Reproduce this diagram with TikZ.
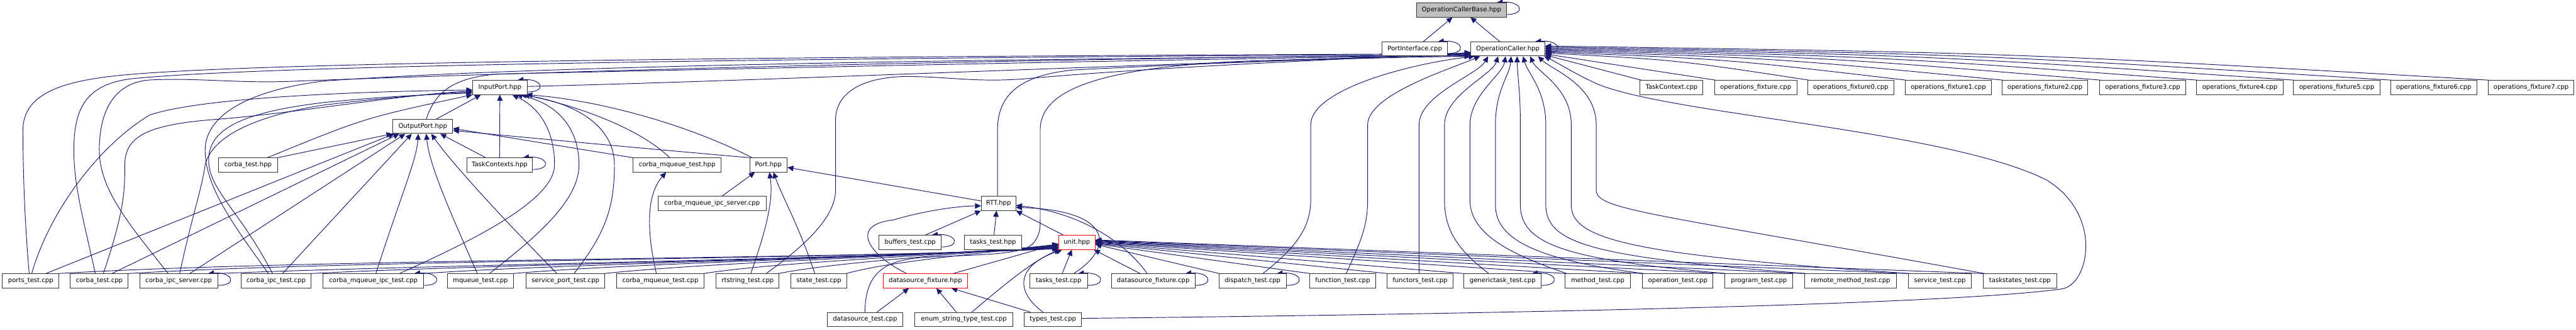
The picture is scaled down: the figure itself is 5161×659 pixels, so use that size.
\documentclass[tikz,border=0pt]{standalone}
\usepackage{fontspec}
\newfontfamily\dvs{DejaVu Sans}
\usetikzlibrary{arrows.meta}
\definecolor{edgecol}{HTML}{191970}
\definecolor{boxgray}{HTML}{BFBFBF}
\pgfdeclarelayer{bg}
\pgfsetlayers{bg,main}
\tikzset{
  box/.style={draw=black!80, line width=1.2pt, fill=white, minimum height=28pt, inner xsep=1pt, inner ysep=0pt, font=\dvs\fontsize{12.7pt}{15pt}\selectfont},
  redbox/.style={box, draw=red},
  e/.style={draw=edgecol, line width=1.2pt, -{Triangle[length=12pt,width=11pt]}},
}
\newcommand\selfloopx[1]{\draw[e] ([yshift=-9pt]#1.east) .. controls +(40,0) and +(50,-4) .. ([xshift=-20pt]#1.north east);}
\begin{document}
\begin{tikzpicture}[x=1pt,y=-1pt]
\useasboundingbox (0,0) rectangle (5161,659);
% ---------- nodes ----------
\node[box,fill=boxgray,minimum width=180pt] (ocb) at (2928,20) {OperationCallerBase.hpp};
\node[box,minimum width=131pt] (pi) at (2834.5,98) {PortInterface.cpp};
\node[box,minimum width=148pt] (oc) at (3021,98) {OperationCaller.hpp};
\node[box,minimum width=109pt] (ip) at (1001.5,175) {InputPort.hpp};
\node[box,minimum width=126pt] (tcc) at (3349,175) {TaskContext.cpp};
\node[box,minimum width=165pt] (of) at (3517.5,175) {operations\_fixture.cpp};
\node[box,minimum width=172pt] (of0) at (3708,175) {operations\_fixture0.cpp};
\node[box,minimum width=173pt] (of1) at (3903.5,175) {operations\_fixture1.cpp};
\node[box,minimum width=172pt] (of2) at (4097,175) {operations\_fixture2.cpp};
\node[box,minimum width=172pt] (of3) at (4293,175) {operations\_fixture3.cpp};
\node[box,minimum width=173pt] (of4) at (4487.5,175) {operations\_fixture4.cpp};
\node[box,minimum width=173pt] (of5) at (4681.5,175) {operations\_fixture5.cpp};
\node[box,minimum width=172pt] (of6) at (4876,175) {operations\_fixture6.cpp};
\node[box,minimum width=172pt] (of7) at (5071,175) {operations\_fixture7.cpp};
\node[box,minimum width=120pt] (op) at (847,253) {OutputPort.hpp};
\node[box,minimum width=118pt] (cth) at (497,330) {corba\_test.hpp};
\node[box,minimum width=132pt] (tch) at (1001,330) {TaskContexts.hpp};
\node[box,minimum width=177pt] (cmh) at (1356.5,330) {corba\_mqueue\_test.hpp};
\node[box,minimum width=75pt] (port) at (1539.5,330) {Port.hpp};
\node[box,minimum width=217pt] (cmis) at (1426.5,407) {corba\_mqueue\_ipc\_server.cpp};
\node[box,minimum width=69pt] (rtt) at (2000.5,407) {RTT.hpp};
\node[box,minimum width=125pt] (buf) at (1823.5,485) {buffers\_test.cpp};
\node[box,minimum width=115pt] (tth) at (1989.5,485) {tasks\_test.hpp};
\node[redbox,minimum width=73pt] (unit) at (2157.5,485) {unit.hpp};
\node[box,minimum width=113pt] (pt) at (61.5,562) {ports\_test.cpp};
\node[box,minimum width=116pt] (ct) at (199,562) {corba\_test.cpp};
\node[box,minimum width=156pt] (cis) at (358,562) {corba\_ipc\_server.cpp};
\node[box,minimum width=140pt] (cit) at (553,562) {corba\_ipc\_test.cpp};
\node[box,minimum width=202pt] (cmit) at (748,562) {corba\_mqueue\_ipc\_test.cpp};
\node[box,minimum width=133pt] (mq) at (962.5,562) {mqueue\_test.cpp};
\node[box,minimum width=158pt] (spt) at (1133,562) {service\_port\_test.cpp};
\node[box,minimum width=176pt] (cmt) at (1323,562) {corba\_mqueue\_test.cpp};
\node[box,minimum width=126pt] (rts) at (1498,562) {rtstring\_test.cpp};
\node[box,minimum width=113pt] (st) at (1640.5,562) {state\_test.cpp};
\node[redbox,minimum width=168pt] (dfh) at (1854,562) {datasource\_fixture.hpp};
\node[box,minimum width=116pt] (ttc) at (2121,562) {tasks\_test.cpp};
\node[box,minimum width=167pt] (dfc) at (2310.5,562) {datasource\_fixture.cpp};
\node[box,minimum width=135pt] (dt) at (2509.5,562) {dispatch\_test.cpp};
\node[box,minimum width=132pt] (fnt) at (2690,562) {function\_test.cpp};
\node[box,minimum width=132pt] (fct) at (2845,562) {functors\_test.cpp};
\node[box,minimum width=155pt] (gtt) at (3010.5,562) {generictask\_test.cpp};
\node[box,minimum width=130pt] (mt) at (3201,562) {method\_test.cpp};
\node[box,minimum width=141pt] (opt) at (3361.5,562) {operation\_test.cpp};
\node[box,minimum width=136pt] (prt) at (3524,562) {program\_test.cpp};
\node[box,minimum width=183pt] (rmt) at (3707.5,562) {remote\_method\_test.cpp};
\node[box,minimum width=125pt] (svt) at (3886.5,562) {service\_test.cpp};
\node[box,minimum width=148pt] (tst) at (4047,562) {taskstates\_test.cpp};
\node[box,minimum width=152pt] (dst) at (1733,639) {datasource\_test.cpp};
\node[box,minimum width=196pt] (est) at (1931,639) {enum\_string\_type\_test.cpp};
\node[box,minimum width=115pt] (tyt) at (2109.5,639) {types\_test.cpp};
% ---------- edges ----------
\begin{pgfonlayer}{bg}
% top
\draw[e] ([xshift=17pt]pi.north) -- ([xshift=-18pt]ocb.south);
\draw[e] ([xshift=-16pt]oc.north) -- ([xshift=18pt]ocb.south);
\selfloopx{ocb}\selfloopx{pi}\selfloopx{oc}
% fixtures -> OperationCaller
\draw[e] ([xshift=3pt]tcc.north west) -- ([yshift=-12pt]oc.east);
\draw[e] ([xshift=3pt]of.north west) -- ([yshift=-10pt]oc.east);
\draw[e] ([xshift=3pt]of0.north west) .. controls (3360,120) .. ([yshift=-8pt]oc.east);
\draw[e] ([xshift=3pt]of1.north west) .. controls (3457,118) .. ([yshift=-6pt]oc.east);
\draw[e] ([xshift=3pt]of2.north west) .. controls (3555,116) .. ([yshift=-4pt]oc.east);
\draw[e] ([xshift=3pt]of3.north west) .. controls (3651,114) .. ([yshift=-2pt]oc.east);
\draw[e] ([xshift=3pt]of4.north west) .. controls (3748,112) .. (oc.east);
\draw[e] ([xshift=3pt]of5.north west) .. controls (3845,110) .. ([yshift=2pt]oc.east);
\draw[e] ([xshift=3pt]of6.north west) .. controls (3942,108) .. ([yshift=4pt]oc.east);
\draw[e] ([xshift=3pt]of7.north west) .. controls (4040,106) .. ([yshift=6pt]oc.east);
% left bundle -> OperationCaller
\draw[e] ([xshift=-3pt]pt.north) .. controls (50,450) and (46,350) .. (46,260) .. controls (46,190) and (120,165) .. (220,153) .. controls (450,125) and (1500,113) .. ([yshift=5pt]oc.south west);
\draw[e] ([xshift=-8pt]ct.north) .. controls (165,430) and (148,370) .. (148,300) .. controls (148,220) and (170,170) .. (260,158) .. controls (500,132) and (1500,116) .. ([yshift=4pt]oc.south west);
\draw[e] ([xshift=-21pt]cis.north) .. controls (260,450) and (199,380) .. (199,300) .. controls (199,220) and (230,165) .. (300,160) .. controls (400,155) and (480,168) .. (600,162) .. controls (1200,140) and (2000,118) .. ([yshift=3pt]oc.south west);
\draw[e] ([xshift=-15pt]cit.north) .. controls (460,440) and (411,370) .. (411,300) .. controls (411,230) and (500,180) .. (650,162) .. controls (1100,130) and (2000,118) .. ([yshift=2pt]oc.south west);
\draw[e] ([xshift=7pt]op.north) .. controls (870,190) and (900,155) .. (1000,148) .. controls (1600,135) and (2500,115) .. ([yshift=1pt]oc.south west);
\draw[e] ([yshift=2pt]ip.east) .. controls (1600,160) and (2500,118) .. (oc.south west);
\draw[e] ([xshift=-2pt]rtt.north) -- (1998.5,260) .. controls (1998.5,185) and (2050,150) .. (2150,140) .. controls (2500,122) and (2800,114) .. ([yshift=6pt]oc.south west);
\draw[e] ([xshift=37pt]rts.north) .. controls (1600,500) and (1674,440) .. (1674,380) -- (1674,240) .. controls (1674,190) and (1720,155) .. (1814,153) .. controls (1900,153) and (1950,165) .. (2050,158) .. controls (2300,135) and (2700,118) .. ([yshift=7pt]oc.south west);
\draw[e] (dst.north) .. controls (1733,540) and (1780,520) .. (1850,515) .. controls (1990,508) and (2060,510) .. (2075,480) .. controls (2084,465) and (2084,455) .. (2084,440) -- (2084,260) .. controls (2084,180) and (2200,135) .. (2500,122) .. controls (2700,116) and (2850,114) .. ([yshift=8pt]oc.south west);
% right tests -> OperationCaller (vertical routes)
\draw[e] ([xshift=20.5pt]dt.north) .. controls (2590,500) and (2626,460) .. (2626,400) -- (2626,250) .. controls (2626,180) and (2820,128) .. ([xshift=8pt]oc.south west);
\draw[e] ([xshift=7pt]fnt.north) .. controls (2728,480) and (2740,450) .. (2740,400) -- (2740,250) .. controls (2740,190) and (2900,140) .. ([xshift=19pt]oc.south west);
\draw[e] ([xshift=-2pt]fct.north) -- (2843,250) .. controls (2843,190) and (2960,150) .. ([xshift=35pt]oc.south west);
\draw[e] ([xshift=-27.5pt]gtt.north) .. controls (2920,500) and (2894,460) .. (2894,400) -- (2894,250) .. controls (2894,190) and (2990,150) .. ([xshift=55pt]oc.south west);
\draw[e] ([xshift=4pt]mt.north west) .. controls (3030,510) and (2945,470) .. (2945,400) -- (2945,250) .. controls (2945,190) and (3010,150) .. ([xshift=70pt]oc.south west);
\draw[e] ([xshift=4pt]opt.north west) .. controls (3080,520) and (2996,480) .. (2996,410) -- (2996,250) .. controls (2996,180) and (3025,150) .. ([xshift=81pt]oc.south west);
\draw[e] ([xshift=4pt]prt.north west) .. controls (3140,520) and (3046,490) .. (3046,410) -- (3046,250) .. controls (3046,180) and (3040,150) .. ([xshift=93pt]oc.south west);
\draw[e] ([xshift=4pt]rmt.north west) .. controls (3200,515) and (3097,490) .. (3097,410) -- (3097,250) .. controls (3097,180) and (3060,145) .. ([xshift=105pt]oc.south west);
\draw[e] ([xshift=4pt]svt.north west) .. controls (3270,510) and (3148,480) .. (3148,410) -- (3148,250) .. controls (3148,175) and (3080,145) .. ([xshift=119pt]oc.south west);
\draw[e] ([xshift=4pt]tst.north west) .. controls (3300,425) and (3198,420) .. (3198,380) -- (3198,250) .. controls (3198,170) and (3110,140) .. ([xshift=135pt]oc.south west);
% types_test -> OperationCaller (around the right)
\draw[e] ([yshift=2pt]tyt.east) .. controls (3000,628) and (3900,610) .. (4131,578) .. controls (4185,570) and (4215,430) .. (4100,360) .. controls (3900,260) and (3350,230) .. (3200,168) .. controls (3150,145) and (3120,125) .. ([xshift=-2pt]oc.south east);
% right tests -> unit.hpp
\draw[e] ([xshift=2pt]dt.north west) -- ([yshift=-4pt]unit.east);
\draw[e] ([xshift=2pt]fnt.north west) -- ([yshift=-3pt]unit.east);
\draw[e] ([xshift=2pt]fct.north west) -- ([yshift=-2pt]unit.east);
\draw[e] ([xshift=2pt]gtt.north west) -- ([yshift=-1pt]unit.east);
\draw[e] ([xshift=2pt]mt.north west) -- (unit.east);
\draw[e] ([xshift=2pt]opt.north west) -- ([yshift=1pt]unit.east);
\draw[e] ([xshift=2pt]prt.north west) -- ([yshift=2pt]unit.east);
\draw[e] ([xshift=2pt]rmt.north west) -- ([yshift=3pt]unit.east);
\draw[e] ([xshift=2pt]svt.north west) -- ([yshift=4pt]unit.east);
\draw[e] ([xshift=2pt]tst.north west) -- ([yshift=5pt]unit.east);
\draw[e] ([xshift=7pt]ttc.north) -- ([xshift=-10pt]unit.south);
\draw[e] ([xshift=-26pt]dfc.north) -- ([xshift=-3pt]unit.south east);
% left tests -> unit.hpp
\draw[e] ([xshift=-3pt]pt.north east) .. controls (600,518) and (1700,518) .. ([yshift=2pt]unit.south west);
\draw[e] ([xshift=-3pt]ct.north east) .. controls (700,520) and (1720,518) .. ([yshift=3pt]unit.south west);
\draw[e] ([xshift=-3pt]cis.north east) .. controls (850,530) and (1740,518) .. ([yshift=4pt]unit.south west);
\draw[e] ([xshift=-3pt]cit.north east) .. controls (1000,528) and (1760,518) .. ([yshift=5pt]unit.south west);
\draw[e] ([xshift=-3pt]cmit.north east) .. controls (1150,526) and (1780,517) .. ([yshift=6pt]unit.south west);
\draw[e] ([xshift=-3pt]mq.north east) .. controls (1300,524) and (1800,516) .. ([yshift=7pt]unit.south west);
\draw[e] ([xshift=-3pt]spt.north east) .. controls (1430,524) and (1820,515) .. ([yshift=8pt]unit.south west);
\draw[e] ([xshift=-3pt]cmt.north east) .. controls (1560,524) and (1850,514) .. ([yshift=9pt]unit.south west);
\draw[e] ([xshift=-3pt]rts.north east) .. controls (1680,524) and (1880,513) .. ([yshift=10pt]unit.south west);
\draw[e] ([xshift=-3pt]st.north east) .. controls (1780,524) and (1920,512) .. ([yshift=11pt]unit.south west);
\draw[e] ([xshift=55pt]dfh.north) -- ([yshift=12pt]unit.south west);
\draw[e] ([xshift=16pt]est.north) .. controls (2000,580) and (2070,520) .. ([xshift=4pt]unit.south west);
\draw[e] ([xshift=-20pt]tyt.north) .. controls (2030,580) and (2040,530) .. ([xshift=8pt]unit.south west);
% datasource_fixture.hpp
\draw[e] ([xshift=24pt]dst.north) -- ([xshift=-33pt]dfh.south);
\draw[e] ([xshift=-15pt]est.north) -- ([xshift=22pt]dfh.south);
\draw[e] ([xshift=-45pt]tyt.north) -- ([xshift=52pt]dfh.south);
\draw[e] ([xshift=-37pt]dfh.north) .. controls (1740,510) and (1700,450) .. (1790,440) .. controls (1850,422) and (1920,412) .. ([yshift=-5pt]rtt.west);
% RTT.hpp
\draw[e] ([xshift=30pt]buf.north) -- (rtt.south west);
\draw[e] ([xshift=2pt]tth.north) -- ([xshift=-4pt]rtt.south);
\draw[e] ([xshift=-27pt]unit.north) -- (rtt.south east);
\draw[e] ([xshift=30pt]ttc.north) .. controls (2240,490) and (2220,420) .. ([yshift=-8pt]rtt.east);
\draw[e] ([xshift=-12pt]dfc.north) .. controls (2250,480) and (2160,425) .. ([yshift=-4pt]rtt.east);
\draw[e] ([yshift=5pt]rtt.west) -- ([yshift=-5pt]port.east);
% Port.hpp
\draw[e] ([xshift=20pt]cmis.north) -- ([xshift=-27pt]port.south);
\draw[e] ([xshift=6pt]rts.north) .. controls (1535,460) and (1550,400) .. ([xshift=2pt]port.south);
\draw[e] ([xshift=-8pt]st.north) .. controls (1600,450) and (1570,400) .. ([xshift=10pt]port.south);
\draw[e] (port.north west) .. controls (1460,312) and (1100,280) .. ([yshift=-8pt]op.east);
\draw[e] ([xshift=-33pt]port.north) .. controls (1380,250) and (1200,200) .. ([xshift=-2pt]ip.south east);
% corba_mqueue_test.hpp
\draw[e] ([xshift=-8pt]cmt.north) .. controls (1295,460) and (1295,390) .. ([xshift=-22pt]cmh.south);
\draw[e] (cmh.north west) -- ([yshift=-4pt]op.east);
\draw[e] ([xshift=-15pt]cmh.north) .. controls (1280,255) and (1150,210) .. ([xshift=-8pt]ip.south east);
% TaskContexts.hpp
\draw[e] ([xshift=-28pt]tch.north) -- ([xshift=35pt]op.south);
\draw[e] (tch.north) -- (ip.south);
% corba_test.hpp
\draw[e] (cth.north east) -- (op.south west);
\draw[e] ([xshift=39pt]cth.north) .. controls (730,236) .. (ip.south west);
% OutputPort.hpp -> InputPort.hpp
\draw[e] ([xshift=27pt]op.north) -- ([xshift=-38pt]ip.south);
% tests -> OutputPort.hpp
\draw[e] ([xshift=30pt]pt.north) -- ([xshift=-57pt]op.south);
\draw[e] ([xshift=25pt]ct.north) -- ([xshift=-47pt]op.south);
\draw[e] ([xshift=22pt]cis.north) -- ([xshift=-35pt]op.south);
\draw[e] ([xshift=13pt]cit.north) -- ([xshift=-22pt]op.south);
\draw[e] ([xshift=5pt]cmit.north) .. controls (800,400) and (835,320) .. ([xshift=-9pt]op.south);
\draw[e] ([xshift=-6pt]mq.north) .. controls (900,420) and (860,330) .. ([xshift=7pt]op.south);
\draw[e] ([xshift=-17pt]spt.north) .. controls (1000,430) and (900,320) .. ([xshift=17pt]op.south);
% tests -> InputPort.hpp
\draw[e] ([xshift=2pt]pt.north) .. controls (100,420) and (200,290) .. (300,230) .. controls (420,190) and (800,182) .. ([yshift=-5pt]ip.west);
\draw[e] ([xshift=8pt]ct.north) .. controls (250,420) and (250,380) .. (250,330) .. controls (250,270) and (300,248) .. (444,238) .. controls (600,225) and (800,190) .. ([yshift=-7pt]ip.west);
\draw[e] ([xshift=2pt]cis.north) .. controls (385,430) and (404,380) .. (411,330) .. controls (425,270) and (520,230) .. (650,210) .. controls (800,192) and (900,186) .. ([yshift=-9pt]ip.west);
\draw[e] ([xshift=-7pt]cit.north) .. controls (480,420) and (418,380) .. (418,320) .. controls (418,260) and (480,225) .. (650,205) .. controls (800,190) and (900,188) .. ([yshift=-11pt]ip.west);
\draw[e] ([xshift=52pt]cmit.north) .. controls (950,480) and (1111,400) .. (1111,330) .. controls (1111,260) and (1080,215) .. ([xshift=25pt]ip.south);
\draw[e] ([xshift=18pt]mq.north) .. controls (1080,470) and (1160,400) .. (1160,330) .. controls (1160,250) and (1110,205) .. ([xshift=-22pt]ip.south east);
\draw[e] ([xshift=17pt]spt.north) .. controls (1210,470) and (1231,420) .. (1231,330) .. controls (1231,250) and (1150,205) .. ([xshift=-14pt]ip.south east);
% self loops
\selfloopx{ip}\selfloopx{tch}\selfloopx{cis}\selfloopx{cmit}\selfloopx{buf}
\selfloopx{ttc}\selfloopx{dfc}\selfloopx{dt}\selfloopx{gtt}
\end{pgfonlayer}
\end{tikzpicture}
\end{document}
